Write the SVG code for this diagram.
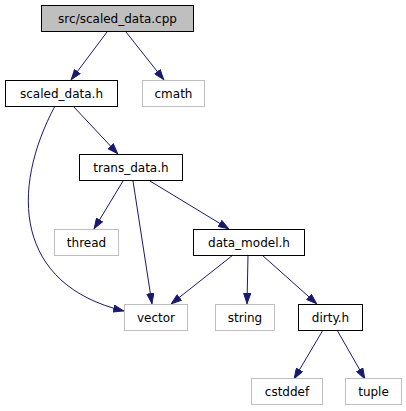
<svg xmlns="http://www.w3.org/2000/svg" width="406" height="411" viewBox="0 0 406 411">
<style>
.n rect{fill:#fff;stroke:#000;stroke-width:1}
.n.root rect{fill:#bfbfbf}
.n.ext rect{stroke:#bfbfbf}
.n text{font-family:"DejaVu Sans",sans-serif;font-size:12px;text-anchor:middle;fill:#000}
.e path{fill:none;stroke:#191970;stroke-width:1}
</style>
<defs>
<marker id="a" viewBox="0 0 11 8" refX="11" refY="4" markerWidth="11" markerHeight="8" markerUnits="userSpaceOnUse" orient="auto">
<path d="M0.5,0.5 L10.5,4 L0.5,7.5 z" fill="#191970" stroke="#191970" stroke-width="1"/>
</marker>
</defs>
<rect width="406" height="411" fill="#fff"/>
<g id="edges" class="e">
<path d="M107,32 L71,80" marker-end="url(#a)"/>
<path d="M126,32 L164,80" marker-end="url(#a)"/>
<path d="M73,106 L118,154" marker-end="url(#a)"/>
<path d="M55,106 C10,190 15,285 124,311" marker-end="url(#a)"/>
<path d="M123,181 L94,229" marker-end="url(#a)"/>
<path d="M133,181 L152,304" marker-end="url(#a)"/>
<path d="M150,181 L229,229" marker-end="url(#a)"/>
<path d="M233,255 L171,304" marker-end="url(#a)"/>
<path d="M248,255 L247,304" marker-end="url(#a)"/>
<path d="M262,255 L317,304" marker-end="url(#a)"/>
<path d="M323,330 L294,379" marker-end="url(#a)"/>
<path d="M337,330 L365,379" marker-end="url(#a)"/>
</g>
<g id="root" class="n root"><rect x="41.5" y="5.5" width="152" height="26"/><text x="117.5" y="22.7">src/scaled_data.cpp</text></g>
<g id="scaled_data_h" class="n"><rect x="5.5" y="80.5" width="112" height="26"/><text x="61.5" y="97.7">scaled_data.h</text></g>
<g id="cmath" class="n ext"><rect x="142.5" y="80.5" width="62" height="26"/><text x="173.5" y="97.7">cmath</text></g>
<g id="trans_data_h" class="n"><rect x="79.5" y="154.5" width="103" height="26"/><text x="131" y="171.7">trans_data.h</text></g>
<g id="thread" class="n ext"><rect x="54.5" y="229.5" width="64" height="26"/><text x="86.5" y="246.7">thread</text></g>
<g id="data_model_h" class="n"><rect x="193.5" y="229.5" width="111" height="26"/><text x="249" y="246.7">data_model.h</text></g>
<g id="vector" class="n ext"><rect x="124.5" y="304.5" width="63" height="26"/><text x="156" y="321.7">vector</text></g>
<g id="string" class="n ext"><rect x="215.5" y="304.5" width="59" height="26"/><text x="245" y="321.7">string</text></g>
<g id="dirty_h" class="n"><rect x="298.5" y="304.5" width="64" height="26"/><text x="330.5" y="321.7">dirty.h</text></g>
<g id="cstddef" class="n ext"><rect x="251.5" y="378.5" width="71" height="26"/><text x="287" y="395.7">cstddef</text></g>
<g id="tuple" class="n ext"><rect x="345.5" y="378.5" width="56" height="26"/><text x="373.5" y="395.7">tuple</text></g>
</svg>
